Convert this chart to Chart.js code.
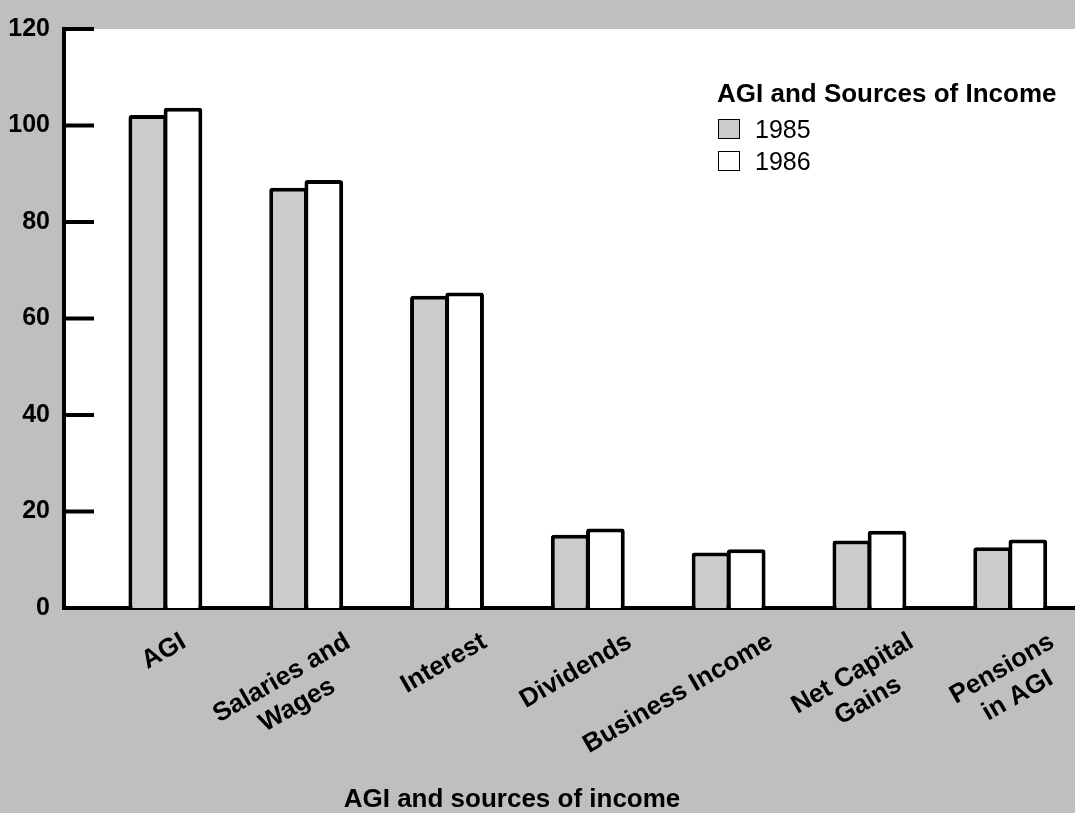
<!DOCTYPE html>
<html>
<head>
<meta charset="utf-8">
<title>AGI and sources of income</title>
<script src="https://cdn.jsdelivr.net/npm/chart.js@4.4.1/dist/chart.umd.min.js"></script>
<style>
  body { margin: 0; background: #bfbfbf; font-family: 'Liberation Sans', Arial, sans-serif; }
  .wrap { position: relative; width: 1075px; height: 813px; }
  .legend { position: absolute; left: 717px; top: 78px; color: #000; }
  .legend h3 { margin: 0; font-size: 26px; line-height: 30px; font-weight: bold; }
  .legend ul { list-style: none; margin: 5px 0 0; padding: 0; }
  .legend li { display: flex; align-items: center; height: 32px; font-size: 25px; }
  .colorBox { box-sizing: border-box; width: 22px; height: 20px; border: 1.5px solid #000; margin: 0 15px 0 1px; }
</style>
</head>
<body>
<div class="wrap">
  <canvas id="chart"></canvas>
  <div class="legend">
    <h3>AGI and Sources of Income</h3>
    <ul id="legend"></ul>
  </div>
</div>
<script>
// categories (one entry per line of the label)
const categories = [
  ['AGI'],
  ['Salaries and', 'Wages'],
  ['Interest'],
  ['Dividends'],
  ['Business Income'],
  ['Net Capital', 'Gains'],
  ['Pensions', 'in AGI'],
];
const values1985 = [102.2, 87.1, 64.7, 15.2, 11.5, 14.0, 12.6];
const values1986 = [103.7, 88.7, 65.4, 16.5, 12.2, 16.0, 14.2];
const yMax = 120;
const yStep = 20;
const xTitle = 'AGI and sources of income';

const FONT = "'Liberation Sans', Arial, sans-serif";

const points = (vals) => vals.map((v, i) => ({ x: i, y: v }));

const ctx = document.getElementById('chart');
const legend = document.getElementById('legend');

const chart = new Chart(ctx, {
  type: 'bar',
  data: {
    datasets: [
      {
        label: '1985',
        data: points(values1985),
        backgroundColor: '#cbcbcb',
      },
      {
        label: '1986',
        data: points(values1986),
        backgroundColor: '#ffffff',
      },
    ],
  },
  options: {
    responsive: true,
    maintainAspectRatio: false,
    animation: false,
    layout: {
      padding: { top: 18, left: 0, right: 0, bottom: 0 },
    },
    datasets: {
      bar: {
        borderColor: '#000',
        borderWidth: 4,
        borderRadius: 3,
        barPercentage: 1.1, // bars overlap a little so they share one divider
        categoryPercentage: 0.5,
      },
    },
    scales: {
      x: {
        type: 'linear',
        offset: false,
        min: -0.72,
        max: 6.46,
        ticks: { display: false },
        grid: { display: false, drawTicks: false },
        border: { color: '#000', width: 4 },
        // one tick per category, otherwise the bar width is taken from the tick spacing
        afterBuildTicks(scale) {
          scale.ticks = categories.map((_, i) => ({ value: i }));
        },
        afterFit(scale) {
          scale.height = 205;
        },
      },
      y: {
        min: 0,
        max: yMax,
        ticks: {
          stepSize: yStep,
          color: '#000',
          padding: 14,
          font: { family: FONT, size: 25, weight: 'bold' },
        },
        grid: { display: false, drawTicks: false },
        border: { color: '#000', width: 4 },
        afterFit(scale) {
          scale.width = 64;
        },
      },
    },
    plugins: {
      legend: { display: false },
      tooltip: { enabled: false },
    },
  },
  plugins: [
    {
      id: 'plotBackground',
      beforeDraw(c) {
        const { left, top, width, height } = c.chartArea;
        c.ctx.save();
        c.ctx.fillStyle = '#fff';
        c.ctx.fillRect(left, top, width, height);
        c.ctx.restore();
      },
    },
    {
      id: 'innerTicks',
      afterDatasetsDraw(c) {
        const y = c.scales.y;
        const g = c.ctx;
        g.save();
        g.strokeStyle = '#000';
        g.lineWidth = 4;
        y.ticks.forEach((t) => {
          const py = y.getPixelForValue(t.value);
          g.beginPath();
          g.moveTo(c.chartArea.left, py);
          g.lineTo(c.chartArea.left + 30, py);
          g.stroke();
        });
        g.restore();
      },
    },
    {
      id: 'categoryLabels',
      afterDraw(c) {
        const x = c.scales.x;
        const g = c.ctx;
        const bottom = c.chartArea.bottom;
        g.save();
        g.fillStyle = '#000';
        g.font = `bold 26px ${FONT}`;
        g.textAlign = 'center';
        g.textBaseline = 'middle';
        categories.forEach((lines, i) => {
          const w = Math.max(...lines.map((l) => g.measureText(l).width));
          const px = x.getPixelForValue(i);
          g.save();
          // right end of the widest line sits up and right of the bar pair
          g.translate(px + Math.min(42, w * 0.4), bottom + 32);
          g.rotate(-Math.PI / 6);
          lines.forEach((l, k) => g.fillText(l, -w / 2, k * 31));
          g.restore();
        });
        // axis title
        g.fillText(xTitle, 512, 800);
        g.restore();
      },
    },
    {
      id: 'htmlLegend',
      afterUpdate(c) {
        while (legend.firstChild) {
          legend.firstChild.remove();
        }
        const items = c.options.plugins.legend.labels.generateLabels(c);
        items.forEach((item) => {
          const li = document.createElement('li');
          const box = document.createElement('span');
          box.classList.add('colorBox');
          box.style.backgroundColor = item.fillStyle;
          const label = document.createElement('span');
          label.appendChild(document.createTextNode(item.text));
          li.appendChild(box);
          li.appendChild(label);
          legend.appendChild(li);
        });
      },
    },
  ],
});
</script>
</body>
</html>
